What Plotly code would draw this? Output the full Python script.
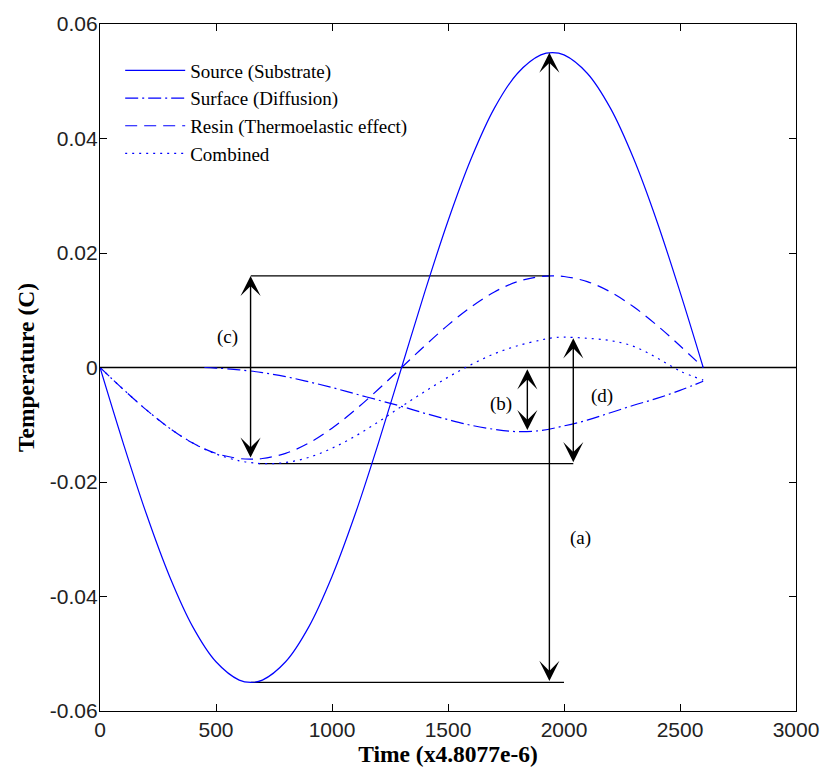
import plotly.graph_objects as go

# ---------------- data ----------------
x_main = [0, 100, 200, 300, 400, 500, 600, 650, 700, 800, 900, 1000, 1100, 1200, 1300,
          1400, 1500, 1600, 1700, 1800, 1900, 1950, 2000, 2100, 2200, 2300, 2400, 2500, 2600]
y_source = [0, -0.0132, -0.0256, -0.0365, -0.0453, -0.0514, -0.0546, -0.0550, -0.0546,
            -0.0514, -0.0453, -0.0365, -0.0256, -0.0132, 0, 0.0132, 0.0256, 0.0365, 0.0453,
            0.0514, 0.0546, 0.0550, 0.0546, 0.0514, 0.0453, 0.0365, 0.0256, 0.0132, 0]
y_resin = [0, -0.0038, -0.0074, -0.0106, -0.0132, -0.0150, -0.0159, -0.0160, -0.0159,
           -0.0150, -0.0132, -0.0106, -0.0074, -0.0038, 0, 0.0038, 0.0074, 0.0106, 0.0132,
           0.0150, 0.0159, 0.0160, 0.0159, 0.0150, 0.0132, 0.0106, 0.0074, 0.0038, 0]
y_combined = [0, -0.0038, -0.0074, -0.0106, -0.0132, -0.0151, -0.0163, -0.0166, -0.0168,
              -0.0166, -0.0157, -0.0141, -0.0120, -0.0095, -0.0068, -0.0042, -0.0017, 0.0005,
              0.0024, 0.0038, 0.0048, 0.0052, 0.0053, 0.0051, 0.0047, 0.0037, 0.0017, -0.0006,
              -0.0022]

x_diffusion = [450, 500, 600, 700, 800, 900, 1000, 1100, 1200, 1300, 1400, 1500, 1600,
               1700, 1800, 1900, 2000, 2100, 2200, 2300, 2400, 2500, 2600]
y_diffusion = [0, -0.0001, -0.0004, -0.0009, -0.0016, -0.0025, -0.0035, -0.0046, -0.0057,
               -0.0068, -0.0080, -0.0091, -0.0101, -0.0108, -0.0112, -0.0110, -0.0102,
               -0.0092, -0.0079, -0.0066, -0.0054, -0.0040, -0.0024]

series_names = ["Source (Substrate)", "Surface (Diffusion)",
                "Resin (Thermoelastic effect)", "Combined"]

# guide lines (horizontal)
guide_x0 = [0, 650, 650, 683]
guide_x1 = [3000, 1937, 2000, 2040]
guide_y = [0, 0.016, -0.055, -0.0168]

# double-headed arrows
arrow_x = [1937, 1842, 649, 2040]
arrow_y0 = [-0.055, -0.0112, -0.016, -0.0168]
arrow_y1 = [0.055, -0.0003, 0.016, 0.0051]

# labels
label_text = ["(a)", "(b)", "(c)", "(d)"]
label_x = [2070, 1728, 550, 2163]
label_y = [-0.0298, -0.0063, 0.0053, -0.0049]

x_tick_vals = [0, 500, 1000, 1500, 2000, 2500, 3000]
x_tick_text = ["0", "500", "1000", "1500", "2000", "2500", "3000"]
y_tick_vals = [-0.06, -0.04, -0.02, 0, 0.02, 0.04, 0.06]
y_tick_text = ["-0.06", "-0.04", "-0.02", "0", "0.02", "0.04", "0.06"]

# ---------------- figure ----------------
BLUE = "rgb(0,0,255)"
SERIF = "Liberation Serif, Times New Roman, serif"
SANS = "Liberation Sans Narrow, Arial Narrow, Liberation Sans, Arial, sans-serif"

fig = go.Figure()

for gx0, gx1, gy in zip(guide_x0, guide_x1, guide_y):
    fig.add_trace(go.Scatter(x=[gx0, gx1], y=[gy, gy], mode="lines",
                             line=dict(color="black", width=1.3),
                             showlegend=False, hoverinfo="skip"))

fig.add_trace(go.Scatter(x=x_main, y=y_source, mode="lines", name=series_names[0],
                         legendgroup="g1",
                         line=dict(color=BLUE, width=1.2, shape="spline")))
fig.add_trace(go.Scatter(x=x_diffusion, y=y_diffusion, mode="lines", name=series_names[1],
                         legendgroup="g2",
                         line=dict(color=BLUE, width=1.2, shape="spline",
                                   dash="13px,4px,2px,4px")))
fig.add_trace(go.Scatter(x=x_main, y=y_resin, mode="lines", name=series_names[2],
                         legendgroup="g3",
                         line=dict(color=BLUE, width=1.2, shape="spline",
                                   dash="12px,7px")))
fig.add_trace(go.Scatter(x=x_main, y=y_combined, mode="lines", name=series_names[3],
                         legendgroup="g4",
                         line=dict(color=BLUE, width=1.2, shape="spline",
                                   dash="2px,5px")))

for ax_, y0, y1 in zip(arrow_x, arrow_y0, arrow_y1):
    fig.add_annotation(x=ax_, y=y1, ax=ax_, ay=y0, xref="x", yref="y",
                       axref="x", ayref="y", text="", showarrow=True,
                       arrowside="end+start", arrowhead=3, startarrowhead=3,
                       arrowsize=2.4, startarrowsize=2.4, arrowwidth=1.4,
                       arrowcolor="black")

for t, lx, ly in zip(label_text, label_x, label_y):
    fig.add_annotation(x=lx, y=ly, xref="x", yref="y", text=t, showarrow=False,
                       font=dict(family=SERIF, size=19, color="black"))

fig.update_layout(
    width=831, height=774,
    margin=dict(l=100, r=29, t=18, b=63),
    paper_bgcolor="white", plot_bgcolor="white",
    showlegend=True,
    legend=dict(x=0.029, y=0.96, xanchor="left", yanchor="top",
                bgcolor="rgba(0,0,0,0)", itemwidth=60, tracegroupgap=0,
                traceorder="grouped",
                font=dict(family=SERIF, size=19, color="black")),
    xaxis=dict(range=[0, 3000], tickvals=x_tick_vals, ticktext=x_tick_text,
               ticks="inside", ticklen=7, tickcolor="black", mirror="ticks",
               showline=True, linecolor="black", linewidth=1.2,
               showgrid=False, zeroline=False, ticklabeloverflow="allow",
               tickfont=dict(family=SANS, size=21, color="#222"),
               title=dict(text="Time (x4.8077e-6)", standoff=2,
                          font=dict(family=SERIF, size=23.5, color="black", weight="bold"))),
    yaxis=dict(range=[-0.06, 0.06], tickvals=y_tick_vals, ticktext=y_tick_text,
               ticks="inside", ticklen=7, tickcolor="black", mirror="ticks",
               showline=True, linecolor="black", linewidth=1.2,
               showgrid=False, zeroline=False, ticklabelstandoff=-3,
               ticklabeloverflow="allow",
               tickfont=dict(family=SANS, size=21, color="#222"),
               title=dict(text="Temperature (C)", standoff=8,
                          font=dict(family=SERIF, size=23.5, color="black", weight="bold"))),
)

fig.write_html("out.html")
